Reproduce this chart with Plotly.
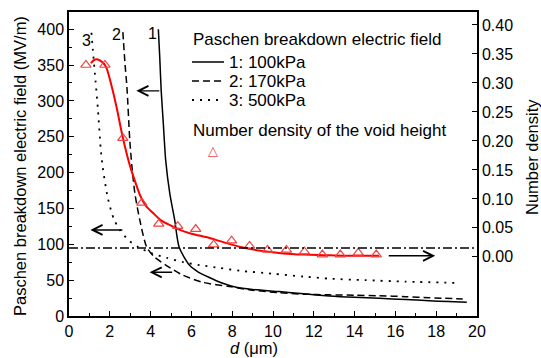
import plotly.graph_objects as go

# ---------------- data ----------------
# Paschen breakdown electric field curves (MV/m) vs d (um)
d_100 = [4.38, 4.45, 4.52, 4.62, 4.74, 4.94, 5.18, 5.40, 5.90, 6.30, 6.85, 7.50, 8.20,
         9.0, 10.3, 11.5, 12.76, 14.0, 15.2, 16.5, 17.65, 18.6, 19.5]
E_100 = [400, 360, 314, 270, 217, 171, 134, 96, 71, 62, 54, 46, 40,
         37, 34, 31, 28, 26, 24.6, 23, 21.3, 20.2, 19.3]

d_170 = [2.64, 2.75, 2.84, 2.98, 3.08, 3.23, 3.47, 3.81, 4.20, 4.80, 5.58, 6.55, 7.87,
         9.0, 10.3, 11.5, 12.76, 14.0, 15.2, 16.5, 17.65, 19.3]
E_170 = [396, 350, 319, 245, 210, 171, 134, 96, 82, 70, 57, 47, 41,
         36, 32.5, 30.5, 29.5, 29, 28.3, 27, 25.5, 23.7]

d_500 = [1.10, 1.17, 1.30, 1.42, 1.55, 1.65, 1.90, 2.20, 2.50, 2.90, 3.40, 4.00, 4.80,
         5.60, 6.40, 7.40, 8.40, 10.0, 11.5, 12.8, 14.5, 16.5, 19.2]
E_500 = [395, 371, 328, 287, 235, 208, 165, 135, 120, 106, 96, 88, 81,
         75, 71, 67, 63, 59, 55, 52, 50, 48, 46]

# Number density of the void height (right axis)
d_void = [0.83, 1.76, 2.64, 3.57, 4.40, 5.33, 6.21, 7.09, 7.97, 8.85, 9.73,
          10.66, 11.54, 12.42, 13.30, 14.18, 15.06]
n_void = [0.331, 0.331, 0.205, 0.093, 0.057, 0.053, 0.048, 0.021, 0.028, 0.019, 0.012,
          0.012, 0.009, 0.004, 0.004, 0.007, 0.004]

# fitted curve of number density
d_fit = [1.08, 1.20, 1.37, 1.55, 1.80, 2.10, 2.35, 2.60, 2.85, 3.05, 3.28, 3.50, 3.77,
         4.11, 4.55, 5.00, 5.40, 6.00, 6.85, 7.60, 8.40, 9.50, 10.5, 11.5, 12.5, 13.5,
         14.5, 15.2]
n_fit = [0.334, 0.339, 0.341, 0.338, 0.329, 0.293, 0.255, 0.212, 0.175, 0.150, 0.126,
         0.105, 0.088, 0.076, 0.062, 0.054, 0.047, 0.040, 0.033, 0.025, 0.017, 0.010,
         0.006, 0.004, 0.003, 0.002, 0.002, 0.002]

threshold_E = 95  # dash-dot reference level (MV/m)

x_ticks = [0, 2, 4, 6, 8, 10, 12, 14, 16, 18, 20]
y_ticks = [0, 50, 100, 150, 200, 250, 300, 350, 400]
y2_ticks = [0.00, 0.05, 0.10, 0.15, 0.20, 0.25, 0.30, 0.35, 0.40]

series_names = ["1: 100kPa", "2: 170kPa", "3: 500kPa"]
legend_title = "Paschen breakdown electric field"
marker_title = "Number density of the void height"

FONT = "Arial, Liberation Sans, sans-serif"
W, H = 541, 358
ML, MR, MT, MB = 69, 64, 12, 42
PW, PH = W - ML - MR, H - MT - MB


def fx(px):  # pixel -> paper x
    return (px - ML) / PW


def fy(py):  # pixel -> paper y
    return (H - MB - py) / PH


DASH = "7px,4px"
DOT = "2px,6px"

fig = go.Figure()

fig.add_trace(go.Scatter(
    x=d_100, y=E_100, mode="lines", showlegend=False,
    line=dict(color="black", width=1.5, shape="spline", smoothing=0.7)))
fig.add_trace(go.Scatter(
    x=d_170, y=E_170, mode="lines", showlegend=False,
    line=dict(color="black", width=1.5, dash=DASH, shape="spline", smoothing=0.7)))
fig.add_trace(go.Scatter(
    x=d_500, y=E_500, mode="lines", showlegend=False,
    line=dict(color="black", width=1.8, dash=DOT, shape="spline", smoothing=0.7)))

fig.add_trace(go.Scatter(
    x=d_fit, y=n_fit, mode="lines", yaxis="y2", showlegend=False,
    line=dict(color="#ff0000", width=2, shape="spline", smoothing=0.8)))
fig.add_trace(go.Scatter(
    x=d_void, y=n_void, mode="markers", yaxis="y2", showlegend=False,
    marker=dict(symbol="triangle-up-open", size=9, color="#ee4444",
                line=dict(width=1.2, color="#ee4444"))))

fig.add_hline(y=threshold_E, line=dict(color="black", width=1.5, dash="9px,3px,2px,3px"))

# curve labels
for txt, xx, yy in [("1", 4.1, 394), ("2", 2.35, 393), ("3", 0.85, 384)]:
    fig.add_annotation(x=xx, y=yy, text=txt, showarrow=False,
                       font=dict(size=16, family=FONT, color="black"))

# arrows indicating the axis of each group
for hx, hy, tx, ty in [(3.3, 314, 4.5, 314), (1.05, 120, 2.69, 120),
                       (3.95, 61, 5.13, 61), (17.95, 84, 15.6, 84)]:
    fig.add_annotation(x=hx, y=hy, ax=tx, ay=ty, xref="x", yref="y", axref="x", ayref="y",
                       text="", showarrow=True, arrowhead=5, arrowsize=1.4,
                       arrowwidth=1.4, arrowcolor="black")

# ---- hand-built legend ----
LF = dict(size=17, family=FONT, color="black")
fig.add_annotation(xref="paper", yref="paper", x=fx(191), y=fy(40), text=legend_title,
                   showarrow=False, xanchor="left", yanchor="middle", font=LF)
for name, dash, wid, py in zip(series_names, ["solid", DASH, DOT], [1.5, 1.5, 1.8],
                               [62, 81, 100]):
    fig.add_shape(type="line", xref="paper", yref="paper", x0=fx(192), x1=fx(224),
                  y0=fy(py), y1=fy(py), line=dict(color="black", width=wid, dash=dash))
    fig.add_annotation(xref="paper", yref="paper", x=fx(227), y=fy(py), text=name,
                       showarrow=False, xanchor="left", yanchor="middle", font=LF)
fig.add_annotation(xref="paper", yref="paper", x=fx(191), y=fy(130), text=marker_title,
                   showarrow=False, xanchor="left", yanchor="middle", font=LF)
fig.add_annotation(xref="paper", yref="paper", x=fx(213), y=fy(150), text="△",
                   showarrow=False, xanchor="center", yanchor="middle",
                   font=dict(size=13, family="DejaVu Sans", color="#ee4444"))

# ---- axis titles ----
TF = dict(size=16.5, family=FONT, color="black")
fig.add_annotation(xref="paper", yref="paper", x=fx(20), y=fy(166), textangle=-90,
                   text="Paschen breakdown electric field (MV/m)", showarrow=False,
                   xanchor="center", yanchor="middle", font=TF)
fig.add_annotation(xref="paper", yref="paper", x=fx(532), y=fy(157), textangle=-90,
                   text="Number density", showarrow=False,
                   xanchor="center", yanchor="middle", font=TF)
fig.add_annotation(xref="paper", yref="paper", x=fx(254), y=fy(348),
                   text="<i>d</i> (μm)", showarrow=False,
                   xanchor="center", yanchor="middle", font=TF)

axis_common = dict(showline=True, linecolor="black", linewidth=1.5, ticks="inside",
                   tickcolor="black", showgrid=False, zeroline=False, automargin=False,
                   tickfont=dict(size=16, family=FONT, color="black"))

fig.update_layout(
    width=W, height=H,
    margin=dict(l=ML, r=MR, t=MT, b=MB, autoexpand=False),
    paper_bgcolor="white", plot_bgcolor="white",
    font=dict(family=FONT, size=16, color="black"),
    showlegend=False,
    xaxis=dict(range=[0, 20], tickvals=x_ticks, ticklen=5, mirror=True,
               minor=dict(dtick=1, ticks="inside", ticklen=3, tickcolor="black"),
               **axis_common),
    yaxis=dict(range=[0, 424], tickvals=y_ticks, ticklen=5,
               minor=dict(dtick=25, ticks="inside", ticklen=3, tickcolor="black"),
               **axis_common),
    yaxis2=dict(range=[-0.102, 0.4224], tickvals=y2_ticks, tickformat=".2f", ticklen=5,
                overlaying="y", side="right", **axis_common),
)

fig.write_html("out.html",
               config={"displayModeBar": False},
               post_script="document.body.style.margin='0px';"
                           "document.body.style.overflow='hidden';")
